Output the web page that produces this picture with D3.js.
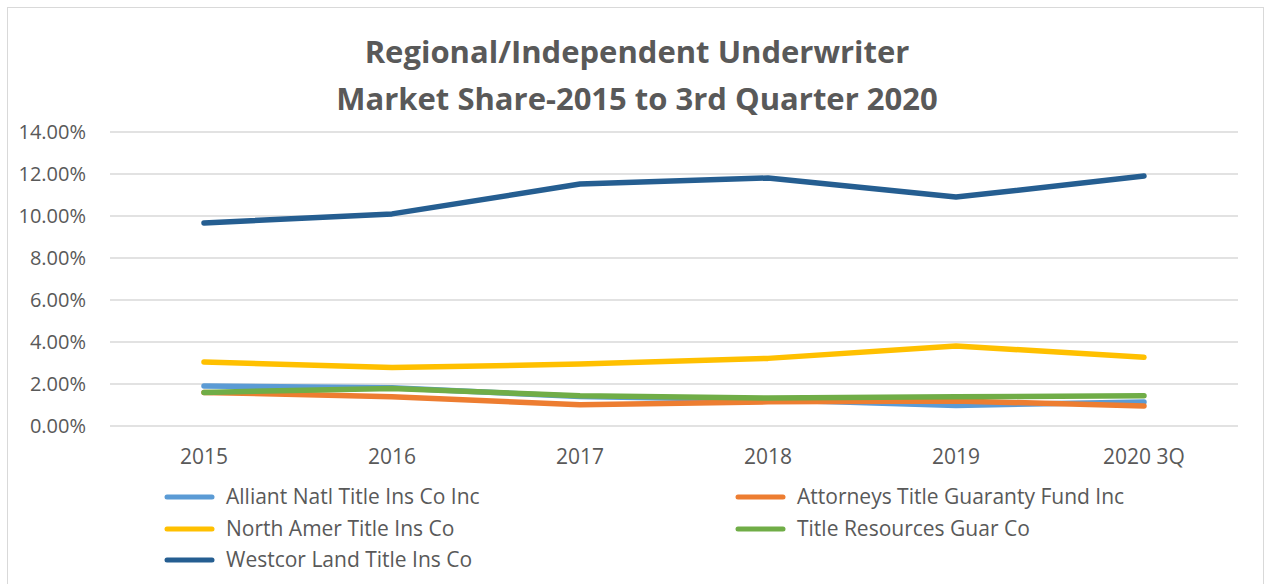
<!DOCTYPE html>
<html>
<head>
<meta charset="utf-8">
<script src="https://cdn.jsdelivr.net/npm/d3@7"></script>
<style>
  body { margin: 0; background: #fff; }
  svg { display: block; font-family: "Open Sans", "Liberation Sans", sans-serif; }
</style>
</head>
<body>
<svg id="viz"></svg>
<script>
var years = ["2015", "2016", "2017", "2018", "2019", "2020 3Q"];
var alliant = [1.90, 1.82, 1.40, 1.25, 0.98, 1.14];
var attorneys = [1.60, 1.39, 1.01, 1.15, 1.19, 0.95];
var northAmer = [3.05, 2.78, 2.95, 3.22, 3.81, 3.27];
var titleRes = [1.60, 1.79, 1.44, 1.33, 1.39, 1.44];
var westcor = [9.67, 10.10, 11.52, 11.81, 10.90, 11.90];
var yTicks = [0, 2, 4, 6, 8, 10, 12, 14];

var series = [
    {name: "Alliant Natl Title Ins Co Inc", values: alliant, color: "#5b9bd5"},
    {name: "Attorneys Title Guaranty Fund Inc", values: attorneys, color: "#ed7d31"},
    {name: "North Amer Title Ins Co", values: northAmer, color: "#ffc000"},
    {name: "Title Resources Guar Co", values: titleRes, color: "#70ad47"},
    {name: "Westcor Land Title Ins Co", values: westcor, color: "#255e91"}
];

var width = 1265, height = 584;
var svg = d3.select("#viz").attr("width", width).attr("height", height);

svg.append("rect")
    .attr("x", 7.5).attr("y", 7.5)
    .attr("width", 1256).attr("height", 590)
    .style("fill", "#fff").style("stroke", "#d9d9d9").style("stroke-width", 1);

var plotLeft = 110, plotRight = 1238, plotTop = 132, plotBottom = 426;

var x = d3.scaleBand().domain(years).range([plotLeft, plotRight]);
var y = d3.scaleLinear().domain([0, 14]).range([plotBottom, plotTop]);

// gridlines
svg.append("g").selectAll("line")
    .data(yTicks).enter().append("line")
    .attr("x1", plotLeft).attr("x2", plotRight)
    .attr("y1", function(d) { return y(d); })
    .attr("y2", function(d) { return y(d); })
    .attr("stroke", "#d9d9d9").attr("stroke-width", 1.5);

// y labels
svg.append("g").selectAll("text")
    .data(yTicks).enter().append("text")
    .attr("x", 86).attr("y", function(d) { return y(d); })
    .attr("dy", "0.35em")
    .attr("text-anchor", "end")
    .attr("fill", "#595959").style("font-size", "20px")
    .text(function(d) { return d.toFixed(2) + "%"; });

// x labels
svg.append("g").selectAll("text")
    .data(years).enter().append("text")
    .attr("x", function(d) { return x(d) + x.bandwidth() / 2; })
    .attr("y", 464)
    .attr("text-anchor", "middle")
    .attr("fill", "#595959").style("font-size", "21px")
    .text(function(d) { return d; });

// lines
var line = d3.line()
    .x(function(d, i) { return x(years[i]) + x.bandwidth() / 2; })
    .y(function(d) { return y(d); });

svg.append("g").selectAll("path")
    .data(series).enter().append("path")
    .attr("d", function(s) { return line(s.values); })
    .attr("fill", "none")
    .attr("stroke", function(s) { return s.color; })
    .attr("stroke-width", 5.5)
    .attr("stroke-linecap", "round")
    .attr("stroke-linejoin", "round");

// title
var title = svg.append("text")
    .attr("text-anchor", "middle")
    .attr("fill", "#595959").style("font-size", "31px").style("font-weight", "bold");
title.append("tspan").attr("x", 637).attr("y", 63).text("Regional/Independent Underwriter");
title.append("tspan").attr("x", 637).attr("y", 110).text("Market Share-2015 to 3rd Quarter 2020");

// legend
var legendPos = [
    {x: 167, y: 497}, {x: 738, y: 497},
    {x: 167, y: 529}, {x: 738, y: 529},
    {x: 167, y: 560}
];
var legend = svg.append("g").selectAll("g")
    .data(series).enter().append("g")
    .attr("transform", function(d, i) { return "translate(" + legendPos[i].x + "," + legendPos[i].y + ")"; });

legend.append("line")
    .attr("x1", 0).attr("x2", 45).attr("y1", 0).attr("y2", 0)
    .attr("stroke", function(d) { return d.color; })
    .attr("stroke-width", 5).attr("stroke-linecap", "round");

legend.append("text")
    .attr("x", 59).attr("y", 0).attr("dy", "0.35em")
    .attr("fill", "#595959").style("font-size", "21px")
    .text(function(d) { return d.name; });
</script>
</body>
</html>
